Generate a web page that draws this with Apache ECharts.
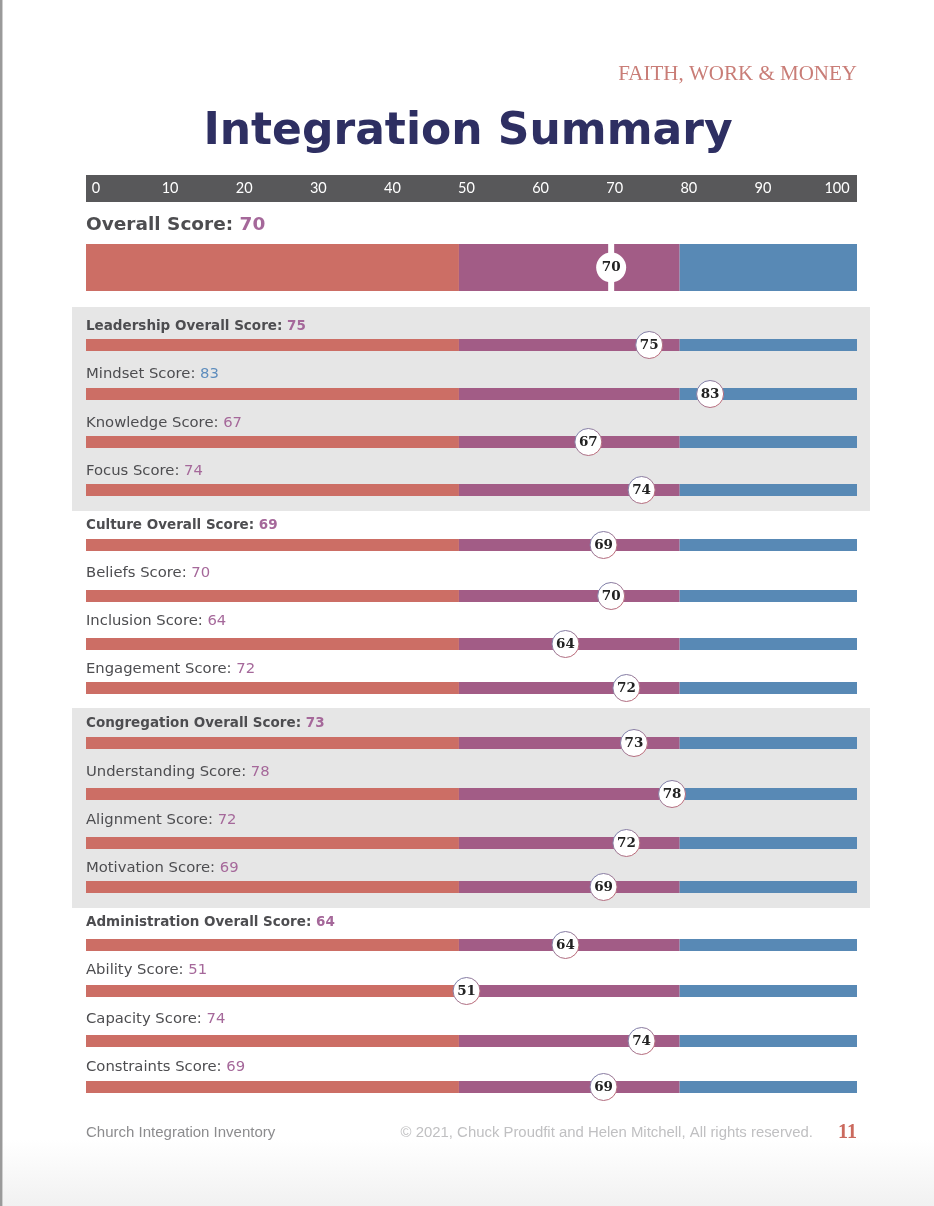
<!DOCTYPE html>
<html>
<head>
<meta charset="utf-8">
<title>Integration Summary</title>
<script src="https://cdn.jsdelivr.net/npm/echarts@6/dist/echarts.min.js"></script>
<style>
html, body { margin: 0; padding: 0; background: #fff; }
#main { width: 934px; height: 1206px; }
</style>
</head>
<body>
<div id="main"></div>
<script>
// scores
var overallName = 'Overall Score';
var overallScore = 70;
var rowNames = [
	'Leadership Overall Score', 'Mindset Score', 'Knowledge Score', 'Focus Score',
	'Culture Overall Score', 'Beliefs Score', 'Inclusion Score', 'Engagement Score',
	'Congregation Overall Score', 'Understanding Score', 'Alignment Score', 'Motivation Score',
	'Administration Overall Score', 'Ability Score', 'Capacity Score', 'Constraints Score'
];
var rowScores = [75, 83, 67, 74, 69, 70, 64, 72, 73, 78, 72, 69, 64, 51, 74, 69];
var tickValues = [0, 10, 20, 30, 40, 50, 60, 70, 80, 90, 100];
// colour bands: red up to 50, purple up to 79, blue to the end of the bar
var bandLimits = [50, 79, 102.3];
var bandColors = ['#cc6e65', '#a25c86', '#5889b5'];

// layout (pixels): bar centres and label centres of each row
var rowBarY = [345, 394, 442, 490, 545, 596, 644, 688, 743, 794, 843, 887, 945, 991, 1041, 1087];
var rowLabelY = [326, 374, 423, 471, 525, 573, 621, 669, 723, 772, 820, 868, 922, 970, 1019, 1067];
var barLeft = 86, barRight = 77, axisMin = 1;

var textColor = '#4d4d50';
var valueColor = function(s) {
	if (s >= 80) return '#5e8dbd';
	if (s >= 50) return '#a5689a';
	return '#cc6e65';
};

var grids = [], xAxes = [], yAxes = [], series = [];

function $each(arr, fn) {
	for (var i = 0; i < arr.length; i++) fn(i, arr[i]);
}

// one small grid per bar
var addBar = function(top, height, name, score, labelY, big) {
	var idx = grids.length;
	grids.push({ left: barLeft, right: barRight, top: top, height: height });
	xAxes.push({ type: 'value', gridIndex: idx, min: axisMin, max: bandLimits[2], show: false });
	yAxes.push({ type: 'category', gridIndex: idx, data: [name], show: false });
	var bold = big || name.indexOf('Overall') >= 0;
	var fs = big ? 18.5 : (bold ? 13.5 : 14.8);
	var prev = 0;
	$each(bandLimits, function(i, lim) {
		var s = {
			type: 'bar', xAxisIndex: idx, yAxisIndex: idx, stack: 'band' + idx,
			data: [lim - prev], barWidth: '100%', silent: true,
			itemStyle: { color: bandColors[i] }
		};
		if (i === 0) {
			s.label = {
				show: true, position: [0, labelY - top], align: 'left', verticalAlign: 'middle',
				formatter: '{n|' + name + ': }{v|' + score + '}',
				rich: {
					n: { fontFamily: 'DejaVu Sans', fontSize: fs, fontWeight: bold ? 'bold' : 'normal', color: textColor },
					v: { fontFamily: 'DejaVu Sans', fontSize: fs, fontWeight: bold ? 'bold' : 'normal', color: valueColor(score) }
				}
			};
		}
		series.push(s);
		prev = lim;
	});
	if (big) {
		// white cut through the big bar
		series.push({
			type: 'scatter', xAxisIndex: idx, yAxisIndex: idx, silent: true, z: 3,
			data: [[score, 0]], symbol: 'rect', symbolSize: [6, height],
			itemStyle: { color: '#ffffff', opacity: 1 }
		});
	}
	series.push({
		type: 'scatter', xAxisIndex: idx, yAxisIndex: idx, silent: true, z: 4,
		data: [[score, 0]], symbol: 'circle', symbolSize: big ? 30 : 27,
		itemStyle: {
			color: '#ffffff', opacity: 1,
			borderWidth: big ? 0 : 1,
			borderColor: new echarts.graphic.LinearGradient(0, 0, 1, 1, [
				{ offset: 0, color: '#6f83b4' }, { offset: 1, color: '#c8646c' }
			])
		},
		label: {
			show: true, position: 'inside', formatter: String(score),
			fontFamily: 'DejaVu Serif', fontWeight: 'bold', fontSize: 13.5, color: '#222222'
		}
	});
};

// tick strip
grids.push({ left: 96, right: 97, top: 187, height: 1 });
xAxes.push({
	type: 'value', gridIndex: 0, min: tickValues[0], max: tickValues[tickValues.length - 1],
	interval: tickValues[1] - tickValues[0],
	axisLine: { show: false }, axisTick: { show: false }, splitLine: { show: false },
	axisLabel: { color: '#ffffff', fontFamily: 'Lato', fontSize: 14.5, margin: 0, verticalAlign: 'middle' }
});
yAxes.push({ type: 'value', gridIndex: 0, show: false });

addBar(244, 47, overallName, overallScore, 225, true);
$each(rowNames, function(i, name) {
	addBar(rowBarY[i] - 6, 12, name, rowScores[i], rowLabelY[i], false);
});

var option = {
	backgroundColor: '#ffffff',
	animation: false,
	graphic: [
		{ type: 'rect', z: -10, shape: { x: 0, y: 1140, width: 934, height: 66 },
			style: { fill: new echarts.graphic.LinearGradient(0, 0, 0, 1, [
				{ offset: 0, color: '#ffffff' }, { offset: 1, color: '#f1f1f1' }]) } },
		{ type: 'rect', z: -10, shape: { x: 0, y: 0, width: 2, height: 1206 }, style: { fill: '#9a9a9a' } },
		{ type: 'rect', z: -10, shape: { x: 2, y: 0, width: 1, height: 1206 }, style: { fill: '#cfcfcf' } },
		{ type: 'rect', z: -10, shape: { x: 72, y: 307, width: 798, height: 204 }, style: { fill: '#e6e6e6' } },
		{ type: 'rect', z: -10, shape: { x: 72, y: 708, width: 798, height: 200 }, style: { fill: '#e6e6e6' } },
		{ type: 'rect', z: -10, shape: { x: 86, y: 175, width: 771, height: 27 }, style: { fill: '#58585a' } },
		{ type: 'text', x: 857, y: 74, style: {
			text: 'FAITH, WORK & MONEY', align: 'right', verticalAlign: 'middle',
			font: '21px "Liberation Serif"', fill: '#c97d77' } },
		{ type: 'text', x: 468, y: 133, style: {
			text: 'Integration Summary', align: 'center', verticalAlign: 'middle',
			font: 'bold 44px "DejaVu Sans"', fill: '#2e2f62' } },
		{ type: 'text', x: 86, y: 1133, style: {
			text: 'Church Integration Inventory', align: 'left', verticalAlign: 'middle',
			font: '15px "Liberation Sans"', fill: '#8c8c8e' } },
		{ type: 'text', x: 813, y: 1133, style: {
			text: '\u00a9 2021, Chuck Proudfit and Helen Mitchell, All rights reserved.', align: 'right', verticalAlign: 'middle',
			font: '14.9px "Liberation Sans"', fill: '#c0c0c2' } },
		{ type: 'text', x: 857, y: 1133, style: {
			text: '11', align: 'right', verticalAlign: 'middle',
			font: 'bold 20px "Liberation Serif"', fill: '#cb6a5e' } }
	],
	grid: grids,
	xAxis: xAxes,
	yAxis: yAxes,
	series: series
};

var myChart = echarts.init(document.getElementById('main'));
myChart.setOption(option);
</script>
</body>
</html>
